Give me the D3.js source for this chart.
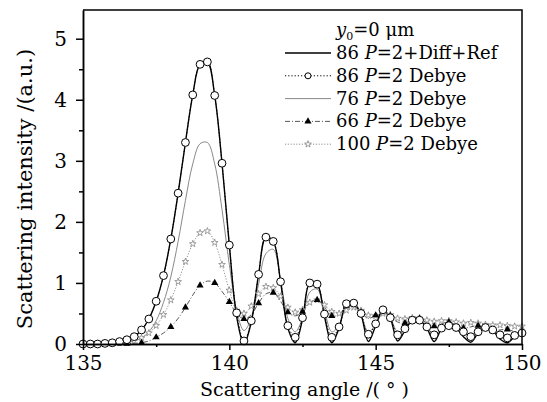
<!DOCTYPE html>
<html lang="en">
<head>
  <meta charset="UTF-8" />
  <title>Scattering intensity</title>
  <script src="https://d3js.org/d3.v7.min.js"></script>
  <style>
    body { margin: 0; background: #fff; }
    svg { font-family: "DejaVu Serif", serif; }
    .axis path, .axis line { stroke: #000; stroke-width: 1.5; }
    .axis text { font-family: "DejaVu Serif", serif; font-size: 20px; fill: #000; }
  </style>
</head>
<body>
  <svg id="chart" width="547" height="402"></svg>

  <script>
    // scattering angle grid (deg)
    const angles = [135, 135.25, 135.5, 135.75, 136, 136.25, 136.5, 136.75, 137, 137.25,
      137.5, 137.75, 138, 138.25, 138.5, 138.75, 139, 139.25, 139.5, 139.75,
      140, 140.25, 140.5, 140.75, 141, 141.25, 141.5, 141.75, 142, 142.25,
      142.5, 142.75, 143, 143.25, 143.5, 143.75, 144, 144.25, 144.5, 144.75,
      145, 145.25, 145.5, 145.75, 146, 146.25, 146.5, 146.75, 147, 147.25,
      147.5, 147.75, 148, 148.25, 148.5, 148.75, 149, 149.25, 149.5, 149.75, 150];

    // 86 P=2+Diff+Ref
    const diffRef86 = [0, 0, 0, 0.01, 0.02, 0.04, 0.07, 0.12, 0.23, 0.41,
      0.70, 1.12, 1.72, 2.47, 3.30, 4.08, 4.58, 4.62, 4.07, 2.96,
      1.62, 0.45, 0.0, 0.36, 1.14, 1.75, 1.68, 1.02, 0.26, 0.02,
      0.40, 1.00, 0.98, 0.45, 0.02, 0.26, 0.66, 0.67, 0.48, 0.04,
      0.30, 0.56, 0.42, 0.05, 0.22, 0.39, 0.39, 0.26, 0.04, 0.24,
      0.30, 0.26, 0.12, 0.03, 0.18, 0.27, 0.22, 0.08, 0.02, 0.12, 0.18];

    // 86 P=2 Debye
    const debye86 = [0, 0, 0, 0.01, 0.02, 0.04, 0.07, 0.12, 0.23, 0.41,
      0.70, 1.12, 1.72, 2.47, 3.30, 4.08, 4.58, 4.62, 4.07, 2.96,
      1.62, 0.51, 0.05, 0.38, 1.14, 1.75, 1.68, 1.02, 0.30, 0.11,
      0.43, 1.00, 0.98, 0.49, 0.11, 0.28, 0.66, 0.67, 0.50, 0.16,
      0.33, 0.56, 0.43, 0.15, 0.25, 0.39, 0.39, 0.28, 0.15, 0.26,
      0.30, 0.27, 0.20, 0.12, 0.20, 0.27, 0.23, 0.15, 0.10, 0.14, 0.18];

    // 76 P=2 Debye
    const debye76 = [0, 0, 0, 0, 0, 0.01, 0.02, 0.05, 0.10, 0.20,
      0.38, 0.68, 1.10, 1.68, 2.35, 2.95, 3.28, 3.30, 2.95, 2.20,
      1.30, 0.55, 0.22, 0.42, 0.98, 1.48, 1.55, 1.05, 0.42, 0.20,
      0.42, 0.85, 0.90, 0.55, 0.20, 0.30, 0.60, 0.62, 0.45, 0.20,
      0.32, 0.50, 0.42, 0.20, 0.24, 0.36, 0.37, 0.27, 0.16, 0.24,
      0.30, 0.27, 0.20, 0.14, 0.20, 0.26, 0.23, 0.16, 0.12, 0.15, 0.19];

    // 66 P=2 Debye
    const debye66 = [0, 0, 0, 0, 0, 0, 0.005, 0.01, 0.02, 0.05,
      0.11, 0.18, 0.28, 0.42, 0.60, 0.80, 0.96, 1.03, 1.00, 0.86,
      0.69, 0.50, 0.41, 0.48, 0.67, 0.82, 0.84, 0.70, 0.52, 0.46,
      0.53, 0.68, 0.72, 0.60, 0.46, 0.48, 0.62, 0.64, 0.52, 0.42,
      0.47, 0.54, 0.46, 0.36, 0.34, 0.40, 0.42, 0.34, 0.29, 0.33,
      0.36, 0.31, 0.26, 0.28, 0.30, 0.25, 0.21, 0.23, 0.24, 0.20, 0.18];

    // 100 P=2 Debye
    const debye100 = [0, 0, 0, 0, 0.01, 0.02, 0.03, 0.05, 0.10, 0.18,
      0.30, 0.48, 0.72, 1.02, 1.35, 1.64, 1.82, 1.85, 1.66, 1.30,
      0.88, 0.55, 0.50, 0.62, 0.82, 0.94, 0.92, 0.78, 0.60, 0.52,
      0.56, 0.68, 0.72, 0.64, 0.53, 0.50, 0.55, 0.60, 0.55, 0.47,
      0.46, 0.50, 0.48, 0.42, 0.41, 0.43, 0.42, 0.39, 0.37, 0.38,
      0.38, 0.36, 0.34, 0.35, 0.34, 0.32, 0.31, 0.31, 0.30, 0.29, 0.29];

    const xMajor = [135, 140, 145, 150];
    const xMinor = [137.5, 142.5, 147.5];
    const yMajor = [0, 1, 2, 3, 4, 5];
    const yMinor = [0.5, 1.5, 2.5, 3.5, 4.5];

    const svg = d3.select("#chart");
    const margin = { top: 10, right: 25, bottom: 58, left: 83 };
    const width = 547 - margin.left - margin.right;
    const height = 402 - margin.top - margin.bottom;

    const x = d3.scaleLinear().domain([135, 150]).range([0, width]);
    const y = d3.scaleLinear().domain([0, 5.47]).range([height, 0]);

    const g = svg.append("g").attr("transform", `translate(${margin.left},${margin.top})`);

    g.append("clipPath").attr("id", "clip")
      .append("rect").attr("width", width).attr("height", height);

    const plot = g.append("g").attr("clip-path", "url(#clip)");
    const line = d3.line()
      .x(d => x(d[0]))
      .y(d => y(d[1]))
      .curve(d3.curveCatmullRom.alpha(0.5));

    const series = [
      { name: "76", values: debye76, stroke: "#7a7a7a", width: 0.9, dash: null },
      { name: "100", values: debye100, stroke: "#888", width: 0.9, dash: "1.2,1.6", marker: "star" },
      { name: "66", values: debye66, stroke: "#444", width: 0.9, dash: "5,2,1,2", marker: "tri", every: 2 },
      { name: "86d", values: debye86, stroke: "#000", width: 1, dash: "1.2,2", marker: "circle" },
      { name: "86", values: diffRef86, stroke: "#000", width: 1.4, dash: null }
    ];

    series.forEach(s => {
      const pts = angles.map((a, i) => [a, s.values[i]]);
      plot.append("path")
        .datum(pts)
        .attr("fill", "none")
        .attr("stroke", s.stroke)
        .attr("stroke-width", s.width)
        .attr("stroke-dasharray", s.dash)
        .attr("d", line);
      s.pts = pts;
    });

    const star = d3.symbol().type(d3.symbolStar).size(14);
    const tri = d3.symbol().type(d3.symbolTriangle).size(22);

    // markers on top
    const markerLayer = g.append("g");
    series.forEach(s => {
      if (!s.marker) return;
      const pts = s.pts.filter((d, i) => i % (s.every || 1) === 0);
      if (s.marker === "circle") {
        markerLayer.selectAll(null).data(pts).join("circle")
          .attr("cx", d => x(d[0])).attr("cy", d => y(d[1])).attr("r", 3.9)
          .attr("fill", "#fff").attr("stroke", "#000").attr("stroke-width", 1);
      } else if (s.marker === "star") {
        markerLayer.selectAll(null).data(pts).join("path")
          .attr("transform", d => `translate(${x(d[0])},${y(d[1])})`)
          .attr("d", star).attr("fill", "#fff").attr("stroke", "#888").attr("stroke-width", 0.8);
      } else {
        markerLayer.selectAll(null).data(pts).join("path")
          .attr("transform", d => `translate(${x(d[0])},${y(d[1])})`)
          .attr("d", tri).attr("fill", "#000");
      }
    });

    // axes
    g.append("g").attr("class", "axis")
      .attr("transform", `translate(0,${height})`)
      .call(d3.axisBottom(x).tickValues(xMajor).tickSize(6).tickSizeOuter(0).tickPadding(6).tickFormat(d3.format("d")));
    g.append("g").attr("class", "axis")
      .attr("transform", `translate(0,${height})`)
      .call(d3.axisBottom(x).tickValues(xMinor).tickSize(3).tickSizeOuter(0).tickFormat(""));
    g.append("g").attr("class", "axis")
      .call(d3.axisLeft(y).tickValues(yMajor).tickSize(7).tickSizeOuter(0).tickPadding(9).tickFormat(d3.format("d")));
    g.append("g").attr("class", "axis")
      .call(d3.axisLeft(y).tickValues(yMinor).tickSize(4).tickSizeOuter(0).tickFormat(""));

    // top and right frame
    g.append("path")
      .attr("d", `M0,0H${width}V${height}`)
      .attr("fill", "none").attr("stroke", "#000").attr("stroke-width", 1.5);

    // axis titles
    svg.append("text")
      .attr("x", margin.left + width / 2 + 2).attr("y", 396)
      .attr("text-anchor", "middle").attr("font-size", 19)
      .text("Scattering angle /( ° )");
    svg.append("text")
      .attr("transform", `translate(32,${margin.top + height / 2 + 12}) rotate(-90)`)
      .attr("text-anchor", "middle").attr("font-size", 21)
      .text("Scattering intensity /(a.u.)");

    // legend
    const legendRows = [
      { num: "86", rest: "=2+Diff+Ref", s: series[4] },
      { num: "86", rest: "=2 Debye", s: series[3] },
      { num: "76", rest: "=2 Debye", s: series[0] },
      { num: "66", rest: "=2 Debye", s: series[2] },
      { num: "100", rest: "=2 Debye", s: series[1] }
    ];
    const legend = svg.append("g");
    const lt = legend.append("text").attr("x", 336).attr("y", 36).attr("font-size", 18);
    lt.append("tspan").attr("font-style", "italic").text("y");
    lt.append("tspan").attr("font-size", 11).attr("dy", 4).text("0");
    lt.append("tspan").attr("dy", -4).text("=0 μm");

    legendRows.forEach((r, i) => {
      const cy = 53 + i * 22.8;
      const s = r.s;
      legend.append("line")
        .attr("x1", 285).attr("x2", 331).attr("y1", cy).attr("y2", cy)
        .attr("stroke", s.stroke).attr("stroke-width", s.width)
        .attr("stroke-dasharray", s.dash);
      if (s.marker === "circle") {
        legend.append("circle").attr("cx", 308).attr("cy", cy).attr("r", 3)
          .attr("fill", "#fff").attr("stroke", "#000");
      } else if (s.marker === "star") {
        legend.append("path").attr("transform", `translate(308,${cy})`)
          .attr("d", star).attr("fill", "#fff").attr("stroke", "#888").attr("stroke-width", 0.8);
      } else if (s.marker === "tri") {
        legend.append("path").attr("transform", `translate(308,${cy})`)
          .attr("d", tri).attr("fill", "#000");
      }
      const t = legend.append("text").attr("x", 336).attr("y", cy + 6).attr("font-size", 18);
      t.append("tspan").text(r.num + " ");
      t.append("tspan").attr("font-style", "italic").text("P");
      t.append("tspan").text(r.rest);
    });
  </script>
</body>
</html>
